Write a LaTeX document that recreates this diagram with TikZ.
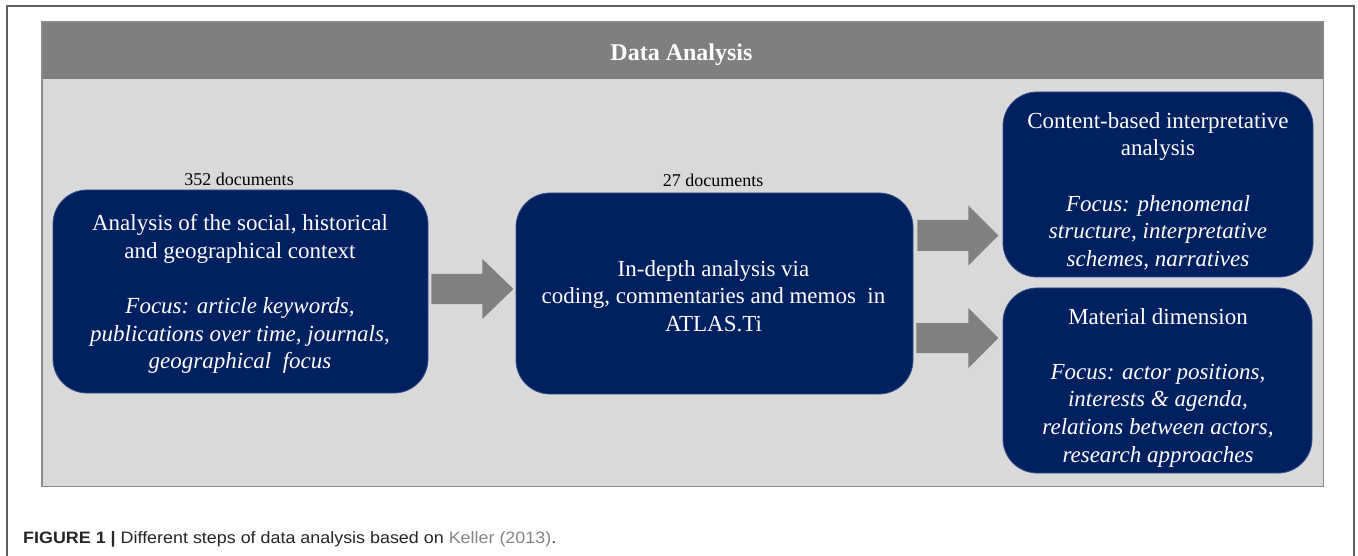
\documentclass[tikz,border=0pt]{standalone}
\usepackage{fontspec}
\usepackage{graphicx}
\setmainfont{Liberation Serif}
\newfontfamily\capfont{Liberation Sans}
\usetikzlibrary{calc}
\definecolor{navy}{HTML}{002060}
\definecolor{navyedge}{HTML}{34508A}
\definecolor{hdrgray}{HTML}{7F7F7F}
\definecolor{panelgray}{HTML}{D9D9D9}
\definecolor{panelline}{HTML}{8A8A8A}
\definecolor{arrowgray}{HTML}{808080}
\definecolor{framegray}{HTML}{5E5E5E}
\definecolor{captext}{HTML}{262626}
\definecolor{linkgray}{HTML}{858585}
\begin{document}
\begin{tikzpicture}[x=1pt,y=-1pt,
  stepbox/.style={draw=navyedge, line width=0.8pt, fill=navy, rounded corners=34pt, inner sep=0pt},
  boxtext/.style={text=white, align=center, font=\fontsize{23}{27.6}\selectfont, inner sep=0pt},
  doclabel/.style={font=\fontsize{18}{21}\selectfont, inner sep=0pt, anchor=base},
  blockarrow/.style={fill=arrowgray, draw=none}]

\useasboundingbox (0,0) rectangle (1358,556);

% outer frame (open at the bottom)
\coordinate (fbl) at (7,556);
\coordinate (ftl) at (7,6);
\coordinate (ftr) at (1354,6);
\coordinate (fbr) at (1354,556);
\draw[framegray, line width=1.2pt] (fbl) -- (ftl) -- (ftr) -- (fbr);

% panel and header
\node[fill=panelgray, minimum width=1281pt, minimum height=464pt, anchor=north west, inner sep=0pt] (panel) at (42,22) {};
\node[fill=hdrgray, minimum width=1281pt, minimum height=57pt, anchor=north west, inner sep=0pt] (hdr) at (42,22) {};
\draw[panelline, line width=1.3pt] (panel.north west) rectangle (panel.south east);
\node[text=white, font=\bfseries\fontsize{24}{28}\selectfont, inner sep=0pt, anchor=base] (title) at (681.5,61) {Data Analysis};

% boxes
\node[stepbox, minimum width=375pt, minimum height=203pt] (b1) at (240.5,291.5) {};
\node[stepbox, minimum width=397pt, minimum height=201pt] (b2) at (714.5,293.5) {};
\node[stepbox, minimum width=310pt, minimum height=185pt] (b3) at (1158,184.5) {};
\node[stepbox, minimum width=309pt, minimum height=185pt] (b4) at (1157.5,380.5) {};

% document counts
\node[doclabel] (d1) at (239,186) {352 documents};
\node[doclabel] (d2) at (713,187) {27 documents};

% box texts
\node[boxtext] (t1) at (240,294) {Analysis of the social, historical\\ and geographical context\\[27.6pt]
  \itshape Focus: article keywords,\\ \itshape publications over time, journals,\\ \itshape geographical~ focus};
\node[boxtext] (t2) at (713.5,296) {In-depth analysis via\\ coding, commentaries and memos~ in\\ ATLAS.Ti};
\node[boxtext] (t3) at (1158,191) {Content-based interpretative\\ analysis\\[27.6pt]
  \itshape Focus: phenomenal\\ \itshape structure, interpretative\\ \itshape schemes, narratives};
\node[boxtext] (t4) at (1158,387.5) {Material dimension\\[27.6pt]
  \itshape Focus: actor positions,\\ \itshape interests \& agenda,\\ \itshape relations between actors,\\ \itshape research approaches};

% block arrows between boxes (start points taken from the boxes)
\coordinate (a1s) at ($(b1.east)+(3,-2.5)$);
\coordinate (a2s) at ($(b2.east)+(4,-58)$);
\coordinate (a3s) at ($(b2.east)+(3,44.5)$);
\fill[blockarrow] (a1s) ++(0,-15) -- ++(51,0) -- ++(0,-15) -- ++(31,30) -- ++(-31,30) -- ++(0,-15) -- ++(-51,0) -- cycle;
\fill[blockarrow] (a2s) ++(0,-15.5) -- ++(51,0) -- ++(0,-14.5) -- ++(30,30) -- ++(-30,30) -- ++(0,-14.5) -- ++(-51,0) -- cycle;
\fill[blockarrow] (a3s) ++(0,-15) -- ++(52,0) -- ++(0,-15) -- ++(30,30) -- ++(-30,30) -- ++(0,-15) -- ++(-52,0) -- cycle;

% caption
\node[anchor=base west, inner sep=0pt, text=captext] (cap) at (23,543)
  {\resizebox{533pt}{\height}{\capfont\fontsize{16.5}{19}\selectfont\textbf{FIGURE 1 |} Different steps of data analysis based on \textcolor{linkgray}{Keller (2013)}.}};
\end{tikzpicture}
\end{document}
